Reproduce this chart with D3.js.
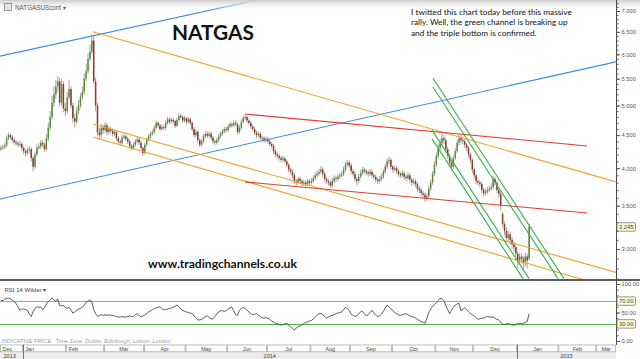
<!DOCTYPE html>
<html>
<head>
<meta charset="utf-8">
<title>NATGAS</title>
<script src="https://d3js.org/d3.v7.min.js"></script>
<style>
  body { margin: 0; background: #fff; }
  svg { display: block; font-family: "Liberation Sans", Arial, sans-serif; }
  .big { font-family: Lato, sans-serif; font-weight: bold; fill: #111; }
  .note { font-family: Lato, sans-serif; fill: #111; }
  .ax text { font-size: 5.8px; fill: #555; }
  .ax line { stroke: #555; }
</style>
</head>
<body>
<script>
// first candle is the weekday 2013-12-16, one candle per weekday
var startDate = new Date(2013, 11, 16);

var closes = [
4.30,4.31,4.34,4.45,4.50,4.47,4.42,4.39,4.37,4.35,
4.36,4.30,4.25,4.22,4.27,4.28,4.15,4.02,4.20,4.30,
4.32,4.38,4.35,4.28,4.45,4.62,4.80,5.05,5.20,5.35,
5.45,5.05,5.40,4.95,4.90,5.15,5.30,5.00,4.78,4.72,
4.90,5.00,5.15,5.25,5.50,5.65,5.90,6.05,6.30,5.45,
5.00,4.55,4.50,4.62,4.58,4.66,4.55,4.60,4.57,4.52,
4.55,4.45,4.40,4.38,4.46,4.48,4.44,4.40,4.33,4.30,
4.35,4.40,4.43,4.38,4.30,4.22,4.35,4.42,4.48,4.52,
4.55,4.62,4.70,4.66,4.60,4.63,4.62,4.70,4.76,4.72,
4.75,4.73,4.65,4.75,4.82,4.80,4.74,4.78,4.72,4.76,
4.70,4.60,4.50,4.55,4.42,4.35,4.40,4.48,4.52,4.49,
4.52,4.46,4.40,4.38,4.42,4.48,4.52,4.56,4.60,4.58,
4.64,4.68,4.66,4.70,4.68,4.55,4.62,4.72,4.78,4.80,
4.74,4.70,4.64,4.60,4.54,4.50,4.52,4.46,4.45,4.42,
4.44,4.40,4.36,4.33,4.25,4.20,4.18,4.15,4.12,4.14,
4.10,4.05,3.98,3.95,3.90,3.82,3.80,3.85,3.82,3.78,
3.80,3.78,3.82,3.80,3.82,3.86,3.90,3.92,3.95,3.98,
3.92,3.85,3.82,3.80,3.76,3.82,3.86,3.85,3.88,3.90,
3.92,3.98,4.05,4.08,4.04,3.96,3.92,3.85,3.82,3.88,
3.93,3.98,3.96,3.94,3.92,3.95,3.90,3.88,3.84,3.82,
3.85,3.88,3.95,4.02,4.10,4.12,4.02,3.98,4.00,3.96,
3.92,3.90,3.93,3.88,3.86,3.90,3.84,3.80,3.82,3.78,
3.72,3.70,3.66,3.64,3.60,3.62,3.72,3.80,3.92,4.05,
4.18,4.30,4.38,4.45,4.42,4.28,4.18,4.08,4.02,4.15,
4.25,4.38,4.45,4.42,4.40,4.35,4.30,4.20,4.12,3.98,
3.90,3.82,3.80,3.78,3.70,3.66,3.68,3.70,3.72,3.74,
3.85,3.80,3.70,3.65,3.50,3.28,3.20,3.12,3.16,3.10,
3.05,3.02,2.95,2.88,2.92,2.90,2.86,2.92,2.88,3.245];

var opens = [
4.28,4.30,4.31,4.34,4.45,4.50,4.47,4.42,4.39,4.37,
4.35,4.36,4.30,4.25,4.22,4.27,4.28,4.15,4.02,4.20,
4.30,4.32,4.38,4.35,4.28,4.45,4.62,4.80,5.05,5.20,
5.35,5.45,5.05,5.40,4.95,4.90,5.15,5.30,5.00,4.78,
4.72,4.90,5.00,5.15,5.25,5.50,5.65,5.90,6.05,6.30,
5.45,5.00,4.55,4.50,4.62,4.58,4.66,4.55,4.60,4.57,
4.52,4.55,4.45,4.40,4.38,4.46,4.48,4.44,4.40,4.33,
4.30,4.35,4.40,4.43,4.38,4.30,4.22,4.35,4.42,4.48,
4.52,4.55,4.62,4.70,4.66,4.60,4.63,4.62,4.70,4.76,
4.72,4.75,4.73,4.65,4.75,4.82,4.80,4.74,4.78,4.72,
4.76,4.70,4.60,4.50,4.55,4.42,4.35,4.40,4.48,4.52,
4.49,4.52,4.46,4.40,4.38,4.42,4.48,4.52,4.56,4.60,
4.58,4.64,4.68,4.66,4.70,4.68,4.55,4.62,4.72,4.78,
4.80,4.74,4.70,4.64,4.60,4.54,4.50,4.52,4.46,4.45,
4.42,4.44,4.40,4.36,4.33,4.25,4.20,4.18,4.15,4.12,
4.14,4.10,4.05,3.98,3.95,3.90,3.82,3.80,3.85,3.82,
3.78,3.80,3.78,3.82,3.80,3.82,3.86,3.90,3.92,3.95,
3.98,3.92,3.85,3.82,3.80,3.76,3.82,3.86,3.85,3.88,
3.90,3.92,3.98,4.05,4.08,4.04,3.96,3.92,3.85,3.82,
3.88,3.93,3.98,3.96,3.94,3.92,3.95,3.90,3.88,3.84,
3.82,3.85,3.88,3.95,4.02,4.10,4.12,4.02,3.98,4.00,
3.96,3.92,3.90,3.93,3.88,3.86,3.90,3.84,3.80,3.82,
3.78,3.72,3.70,3.66,3.64,3.60,3.62,3.72,3.80,3.92,
4.05,4.18,4.30,4.38,4.45,4.42,4.28,4.18,4.08,4.02,
4.15,4.25,4.38,4.45,4.42,4.40,4.35,4.30,4.20,4.12,
3.98,3.90,3.82,3.80,3.78,3.70,3.66,3.68,3.70,3.72,
3.74,3.85,3.80,3.70,3.65,3.40,3.28,3.20,3.12,3.16,
3.10,3.05,3.02,2.95,2.88,2.92,2.90,2.86,2.92,2.90];

var highs = [
4.34,4.35,4.38,4.49,4.54,4.53,4.50,4.45,4.42,4.40,
4.41,4.39,4.33,4.28,4.31,4.33,4.31,4.18,4.24,4.35,
4.37,4.42,4.42,4.38,4.52,4.70,4.90,5.18,5.35,5.48,
5.55,5.52,5.50,5.45,5.05,5.25,5.48,5.35,5.05,4.85,
4.98,5.10,5.22,5.35,5.60,5.80,6.02,6.20,6.45,6.40,
5.52,5.05,4.62,4.68,4.67,4.71,4.70,4.64,4.64,4.61,
4.59,4.58,4.48,4.43,4.50,4.52,4.51,4.47,4.43,4.36,
4.38,4.44,4.47,4.46,4.41,4.32,4.38,4.46,4.52,4.56,
4.59,4.66,4.74,4.73,4.69,4.67,4.67,4.74,4.80,4.79,
4.79,4.78,4.75,4.79,4.86,4.86,4.83,4.82,4.80,4.80,
4.79,4.73,4.63,4.59,4.58,4.45,4.44,4.52,4.56,4.56,
4.56,4.55,4.49,4.43,4.46,4.52,4.56,4.60,4.64,4.64,
4.68,4.72,4.71,4.74,4.74,4.71,4.66,4.76,4.82,4.85,
4.83,4.77,4.73,4.67,4.63,4.57,4.56,4.55,4.49,4.48,
4.48,4.47,4.43,4.39,4.36,4.28,4.23,4.21,4.18,4.18,
4.17,4.13,4.08,4.01,3.98,3.93,3.85,3.88,3.88,3.85,
3.84,3.83,3.86,3.85,3.86,3.90,3.94,3.96,3.99,4.03,
4.01,3.95,3.88,3.85,3.83,3.86,3.90,3.89,3.92,3.94,
3.96,4.02,4.09,4.12,4.11,4.07,3.99,3.95,3.88,3.92,
3.97,4.02,4.01,3.99,3.97,3.99,3.98,3.93,3.91,3.87,
3.89,3.92,3.99,4.06,4.14,4.17,4.15,4.05,4.04,4.03,
3.99,3.95,3.97,3.96,3.91,3.94,3.93,3.87,3.86,3.85,
3.81,3.75,3.73,3.69,3.67,3.66,3.76,3.84,3.96,4.10,
4.23,4.36,4.44,4.52,4.50,4.45,4.32,4.22,4.12,4.19,
4.30,4.43,4.51,4.50,4.46,4.44,4.38,4.33,4.23,4.15,
4.01,3.93,3.86,3.83,3.81,3.73,3.72,3.74,3.76,3.79,
3.90,3.88,3.83,3.73,3.67,3.42,3.31,3.24,3.20,3.19,
3.13,3.08,3.05,2.98,2.96,2.95,2.93,2.96,2.95,3.28];

var lows = [
4.25,4.27,4.28,4.31,4.42,4.43,4.38,4.35,4.33,4.31,
4.31,4.26,4.20,4.17,4.19,4.22,4.10,3.95,3.99,4.17,
4.27,4.28,4.31,4.24,4.25,4.40,4.58,4.75,4.98,5.12,
5.25,4.98,5.00,4.88,4.82,4.86,5.10,4.95,4.70,4.62,
4.68,4.85,4.95,5.10,5.20,5.45,5.60,5.85,6.00,5.40,
4.90,4.48,4.42,4.46,4.52,4.54,4.50,4.51,4.53,4.48,
4.48,4.41,4.36,4.34,4.35,4.43,4.40,4.36,4.29,4.26,
4.27,4.32,4.37,4.34,4.26,4.18,4.20,4.32,4.40,4.45,
4.49,4.52,4.59,4.62,4.56,4.57,4.58,4.59,4.67,4.68,
4.69,4.69,4.61,4.63,4.72,4.76,4.70,4.71,4.68,4.69,
4.66,4.56,4.46,4.47,4.38,4.31,4.32,4.37,4.45,4.45,
4.46,4.42,4.36,4.34,4.35,4.39,4.45,4.49,4.53,4.54,
4.55,4.61,4.62,4.63,4.64,4.51,4.52,4.59,4.69,4.75,
4.70,4.66,4.60,4.56,4.50,4.46,4.47,4.42,4.41,4.38,
4.39,4.36,4.32,4.29,4.21,4.16,4.14,4.11,4.08,4.09,
4.06,4.01,3.94,3.91,3.86,3.78,3.76,3.77,3.78,3.74,
3.75,3.74,3.75,3.76,3.77,3.79,3.83,3.87,3.89,3.92,
3.88,3.81,3.78,3.76,3.72,3.73,3.79,3.81,3.82,3.85,
3.87,3.89,3.95,4.02,4.00,3.92,3.88,3.81,3.76,3.79,
3.85,3.90,3.92,3.90,3.88,3.89,3.86,3.84,3.80,3.78,
3.79,3.82,3.85,3.92,3.99,4.06,3.98,3.94,3.95,3.92,
3.88,3.86,3.87,3.84,3.82,3.83,3.80,3.76,3.77,3.74,
3.68,3.66,3.62,3.60,3.55,3.56,3.60,3.69,3.77,3.89,
4.02,4.14,4.26,4.34,4.36,4.23,4.13,4.02,3.97,3.99,
4.12,4.22,4.34,4.37,4.35,4.30,4.25,4.15,4.07,3.93,
3.85,3.78,3.76,3.74,3.66,3.62,3.63,3.65,3.67,3.69,
3.71,3.76,3.66,3.60,3.44,3.24,3.15,3.07,3.08,3.05,
3.00,2.97,2.89,2.80,2.84,2.85,2.79,2.82,2.80,2.88];

// RSI 14 Wilder, one value per candle
var rsi = [
71,71,73,75,75,74,72,69,66,60,
54,56,56,55,54,47,43,52,57,60,
59,60,55,58,65,69,72,76,72,70,
74,62,62,62,59,57,59,54,49,51,
54,56,57,59,63,68,70,72,69,55,
48,43,45,46,45,46,45,46,45,45,
44,43,42,42,43,42,42,43,44,43,
43,46,48,45,42,44,46,48,51,53,
55,57,58,59,60,57,55,55,56,57,
58,59,61,63,60,56,54,52,51,50,
49,48,44,40,37,37,38,40,43,44,
41,39,39,43,47,51,53,53,52,53,
56,58,59,53,46,45,54,57,59,57,
54,51,48,46,47,48,45,43,41,40,
41,40,38,35,33,31,30,29,28,29,
30,31,28,25,22,19,23,25,26,28,
31,32,34,35,36,39,42,45,48,48,
46,43,40,42,44,45,46,48,49,50,
51,55,59,57,53,47,45,43,44,48,
51,52,48,44,46,50,54,49,45,43,
44,47,52,58,63,60,57,53,50,48,
46,45,46,47,48,46,44,43,42,40,
38,36,34,33,31,40,50,56,61,64,
67,71,75,74,71,62,55,48,54,59,
63,65,66,53,55,59,55,51,48,46,
44,41,38,39,40,40,42,43,42,42,
42,40,38,37,33,29,29,30,31,29,
28,28,29,31,31,31,31,33,34,48];

// trend lines: [[candle index, price], [candle index, price]]
var blueLines = [[[-0.5, 5.96], [158.0, 7.53]], [[-0.5, 3.585], [324.9, 5.84]]];
var orangeLines = [[[48.6, 6.50], [324.9, 3.81]], [[48.6, 4.68], [324.9, 2.76]], [[48.6, 4.47], [324.9, 2.60]]];
var redLines = [[[128.9, 4.85], [309.6, 4.33]], [[128.9, 3.81], [309.6, 3.41]]];
var greenLines = [[[228.2, 5.51], [297.4, 2.70]], [[228.2, 5.34], [294.3, 2.70]],
                  [[227.7, 4.58], [279.0, 2.70]], [[227.7, 4.44], [275.8, 2.70]]];

var priceTicks = [3, 3.5, 4, 4.5, 5, 5.5, 6, 6.5, 7];
var rsiTicks = [0, 50, 100];
var rsiLevels = [70, 30];
var lastPrice = 3.245;
var noteLines = ["I twitted this chart today before this massive",
                 "rally. Well, the green channel is breaking up",
                 "and the triple bottom is confirmed."];

var W = 640, H = 359, plotR = 616, priceB = 279;
var svg = d3.select("body").append("svg").attr("width", W).attr("height", H);

var x = d3.scaleLinear().domain([-0.5, 324.9]).range([0, plotR]);
var y = d3.scaleLog().domain([3, 7]).range([249, 11]);
var yR = d3.scaleLinear().domain([0, 100]).range([341, 284]);

var defs = svg.append("defs");
defs.append("clipPath").attr("id", "clipP").append("rect")
    .attr("x", 0).attr("y", 0).attr("width", plotR).attr("height", priceB);
defs.append("clipPath").attr("id", "clipR").append("rect")
    .attr("x", 0).attr("y", 281).attr("width", plotR).attr("height", 62);
var grad = defs.append("linearGradient").attr("id", "hdr").attr("x1", 0).attr("y1", 0).attr("x2", 0).attr("y2", 1);
grad.append("stop").attr("offset", "0%").attr("stop-color", "#cdcdcd");
grad.append("stop").attr("offset", "100%").attr("stop-color", "#ffffff").attr("stop-opacity", 0);

// ---- price panel
var candles = closes.map(function(c, i) {
    return {i: i, o: opens[i], h: highs[i], l: lows[i], c: c};
});
var pg = svg.append("g").attr("clip-path", "url(#clipP)");
pg.selectAll(".wick").data(candles).enter().append("line").attr("class", "wick")
    .attr("x1", function(d) { return x(d.i); }).attr("x2", function(d) { return x(d.i); })
    .attr("y1", function(d) { return y(d.h); }).attr("y2", function(d) { return y(d.l); })
    .attr("stroke", "#a3a3a3").attr("stroke-width", 1);
pg.selectAll(".body").data(candles).enter().append("rect").attr("class", "body")
    .attr("x", function(d) { return x(d.i) - 0.75; }).attr("width", 1.5)
    .attr("y", function(d) { return y(Math.max(d.o, d.c)); })
    .attr("height", function(d) { return Math.max(0.8, Math.abs(y(d.o) - y(d.c))); })
    .attr("fill", function(d) { return d.c >= d.o ? "#5b8c3e" : "#8f3a28"; });

[[blueLines, "#3c8fde"], [orangeLines, "#f2a12a"], [redLines, "#e8392b"], [greenLines, "#34b04a"]]
  .forEach(function(s) {
    pg.selectAll(null).data(s[0]).enter().append("line")
      .attr("x1", function(d) { return x(d[0][0]); }).attr("y1", function(d) { return y(d[0][1]); })
      .attr("x2", function(d) { return x(d[1][0]); }).attr("y2", function(d) { return y(d[1][1]); })
      .attr("stroke", s[1]).attr("stroke-width", 1.1);
  });

// header strip
svg.append("rect").attr("x", 0).attr("y", 0).attr("width", W).attr("height", 11).attr("fill", "url(#hdr)");
svg.append("rect").attr("x", 4.5).attr("y", 3.5).attr("width", 7).attr("height", 7)
    .attr("fill", "#e4e4e4").attr("stroke", "#999");
svg.append("text").attr("x", 15).attr("y", 9.5).attr("font-size", 6.3).attr("fill", "#555")
    .text("NATGASUScont \u25BE");

function fit(sel, w) {
    var fs = parseFloat(sel.attr("font-size"));
    sel.attr("font-size", (fs * w / sel.node().getComputedTextLength()).toFixed(2));
}
fit(svg.append("text").attr("class", "big").attr("x", 172).attr("y", 40).attr("font-size", 21).text("NATGAS"), 82);
fit(svg.append("text").attr("class", "big").attr("x", 148).attr("y", 267.5).attr("font-size", 12).text("www.tradingchannels.co.uk"), 149);

var notes = svg.append("g");
var n0 = notes.append("text").attr("class", "note").attr("x", 411).attr("y", 15).attr("font-size", 9).text(noteLines[0]);
fit(n0, 161);
var nfs = n0.attr("font-size");
noteLines.slice(1).forEach(function(t, k) {
    notes.append("text").attr("class", "note").attr("x", 411).attr("y", 15 + 10.3 * (k + 1))
        .attr("font-size", nfs).text(t);
});

// ---- RSI panel
svg.append("line").attr("x1", 0).attr("x2", W).attr("y1", 280).attr("y2", 280)
    .attr("stroke", "#5e5e5e").attr("stroke-width", 2);
var rg = svg.append("g").attr("clip-path", "url(#clipR)");
rg.selectAll(".lvl").data(rsiLevels).enter().append("line")
    .attr("x1", 0).attr("x2", plotR)
    .attr("y1", function(d) { return Math.round(yR(d)) + 0.5; }).attr("y2", function(d) { return Math.round(yR(d)) + 0.5; })
    .attr("stroke", function(d) { return d > 50 ? "#f08a78" : "#4db84d"; }).attr("stroke-width", 1);
rg.append("path").datum(rsi)
    .attr("d", d3.line().x(function(d, i) { return x(i); }).y(function(d) { return yR(d); }))
    .attr("fill", "none").attr("stroke", "#4a4a4a").attr("stroke-width", 0.9);
svg.append("text").attr("x", 4.5).attr("y", 291.5).attr("font-size", 6).attr("fill", "#444")
    .text("RSI 14 Wilder \u25BE");
svg.append("text").attr("x", 1.5).attr("y", 342.8).attr("font-size", 5.6).attr("fill", "#a0a0a0")
    .attr("xml:space", "preserve").text("INDICATIVE PRICE   Time Zone: Dublin, Edinburgh, Lisbon, London");

// ---- right axes
svg.append("line").attr("x1", plotR + 0.5).attr("x2", plotR + 0.5).attr("y1", 0).attr("y2", 345)
    .attr("stroke", "#4a4a4a").attr("stroke-width", 1);
var ax = svg.append("g").attr("class", "ax").attr("transform", "translate(" + (plotR + 0.5) + ",0)");
ax.append("g").call(d3.axisRight(y).tickValues(d3.range(2.7, 7.25, 0.1)).tickSize(2).tickFormat(""));
ax.append("g").call(d3.axisRight(y).tickValues(priceTicks).tickSize(3.5).tickPadding(1.5).tickFormat(d3.format(".3f")));
ax.append("g").call(d3.axisRight(yR).tickValues(d3.range(0, 101, 10)).tickSize(2).tickFormat(""));
ax.append("g").call(d3.axisRight(yR).tickValues(rsiTicks).tickSize(3.5).tickPadding(1.5).tickFormat(d3.format(".2f")));
ax.selectAll(".domain").remove();

function valueBox(yy, label) {
    var g = svg.append("g").attr("transform", "translate(" + (plotR + 1) + "," + yy + ")");
    g.append("rect").attr("x", 0).attr("y", -4.2).attr("width", 18.5).attr("height", 8.4).attr("rx", 1.2)
        .attr("fill", "#ffffdc").attr("stroke", "#7a7a6a").attr("stroke-width", 0.8);
    g.append("text").attr("x", 9.3).attr("y", 2.1).attr("text-anchor", "middle")
        .attr("font-size", 5.8).attr("fill", "#333").text(label);
}
valueBox(y(lastPrice), d3.format(".3f")(lastPrice));
rsiLevels.forEach(function(v) { valueBox(yR(v), d3.format(".2f")(v)); });

// ---- bottom time axis (weekday positions)
var days = [];
var dd = new Date(startDate);
while (days.length < 330) {
    if (dd.getDay() % 6 !== 0) days.push(new Date(dd));
    dd.setDate(dd.getDate() + 1);
}
function segments(keyFmt) {
    var segs = [];
    days.forEach(function(d, i) {
        var k = keyFmt(d);
        if (!segs.length || segs[segs.length - 1].key !== k) segs.push({key: k, date: d, s: i, e: i + 1});
        else segs[segs.length - 1].e = i + 1;
    });
    segs.forEach(function(s) {
        s.x0 = Math.max(0, x(s.s - 0.5));
        s.x1 = Math.min(plotR, x(s.e - 0.5));
    });
    return segs.filter(function(s) { return s.x0 < plotR; });
}
var months = segments(d3.timeFormat("%Y-%m"));
var years = segments(d3.timeFormat("%Y"));
var leftMonths = ["2013-12", "2014-01", "2014-02"];

var bg = svg.append("g");
bg.append("rect").attr("x", 0).attr("y", 344.5).attr("width", plotR).attr("height", 14.5).attr("fill", "#ededed");
bg.selectAll(".mbox").data(months).enter().append("rect")
    .attr("x", function(d) { return d.x0 + 0.5; }).attr("y", 345)
    .attr("width", function(d) { return d.x1 - d.x0 - 1; }).attr("height", 6.8)
    .attr("fill", "#fff").attr("stroke", "#9a9a9a").attr("stroke-width", 0.6);
bg.selectAll(".mlab").data(months).enter().append("text")
    .attr("x", function(d) { return leftMonths.indexOf(d.key) >= 0 ? d.x0 + 2.5 : (d.x0 + d.x1) / 2; })
    .attr("text-anchor", function(d) { return leftMonths.indexOf(d.key) >= 0 ? "start" : "middle"; })
    .attr("y", 350.6).attr("font-size", 5.4).attr("fill", "#444")
    .text(function(d) { return d3.timeFormat("%b")(d.date); });
bg.selectAll(".ysep").data(years.slice(1)).enter().append("line")
    .attr("x1", function(d) { return Math.round(d.x0) + 0.5; }).attr("x2", function(d) { return Math.round(d.x0) + 0.5; })
    .attr("y1", 344.5).attr("y2", 359).attr("stroke", "#555").attr("stroke-width", 0.8);
bg.selectAll(".ylab").data(years).enter().append("text")
    .attr("x", function(d) { return d.x1 - d.x0 < 40 ? d.x0 + 3.5 : (d.x0 + d.x1) / 2; })
    .attr("text-anchor", function(d) { return d.x1 - d.x0 < 40 ? "start" : "middle"; })
    .attr("y", 357.6).attr("font-size", 5.6).attr("fill", "#444")
    .text(function(d) { return d.key; });
</script>
</body>
</html>
